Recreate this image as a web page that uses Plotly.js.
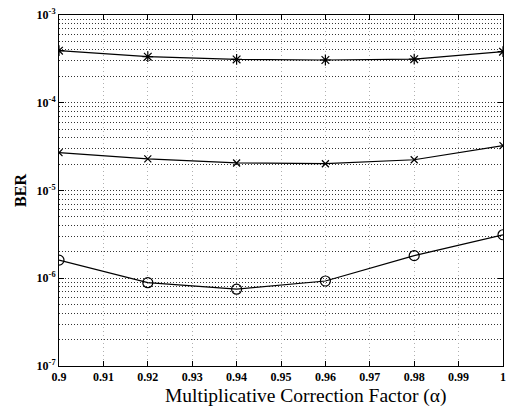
<!DOCTYPE html>
<html>
<head>
<meta charset="utf-8">
<script src="https://cdn.plot.ly/plotly-3.0.1.min.js"></script>
<style>html,body{margin:0;padding:0;background:#fff;}#chart{width:507px;height:410px;}</style>
</head>
<body>
<div id="chart"></div>
<script>
var alpha = [0.90, 0.92, 0.94, 0.96, 0.98, 1.00];
var berStar = [3.92e-4, 3.35e-4, 3.12e-4, 3.07e-4, 3.14e-4, 3.82e-4];
var berCross = [2.70e-5, 2.29e-5, 2.06e-5, 2.02e-5, 2.24e-5, 3.24e-5];
var berCircle = [1.61e-6, 8.9e-7, 7.5e-7, 9.3e-7, 1.81e-6, 3.13e-6];
var xTickVals = [0.9, 0.91, 0.92, 0.93, 0.94, 0.95, 0.96, 0.97, 0.98, 0.99, 1.0];
var xTickText = ['0.9', '0.91', '0.92', '0.93', '0.94', '0.95', '0.96', '0.97', '0.98', '0.99', '1'];
var decades = [-7, -6, -5, -4, -3];

var yTickVals = [], yTickText = [], yMinorVals = [];
decades.forEach(function (d, i) {
  yTickVals.push(Math.pow(10, d));
  yTickText.push('10<sup>' + d + '</sup>');
  if (i < decades.length - 1) {
    for (var m = 2; m <= 9; m++) yMinorVals.push(m * Math.pow(10, d));
  }
});

var lineStyle = {color: '#000', width: 1.2};
function series(y, sym, size) {
  return {x: alpha, y: y, type: 'scatter', mode: 'lines+markers', line: lineStyle,
    marker: {symbol: sym, size: size, color: '#000', line: {color: '#000', width: 1.2}},
    showlegend: false, hoverinfo: 'skip'};
}
var data = [
  series(berStar, 'asterisk-open', 9),
  series(berCross, 'x-thin-open', 7),
  series(berCircle, 'circle-open', 10)
];

var fontSerif = 'Liberation Serif, Times New Roman, serif';
var layout = {
  width: 507, height: 410,
  margin: {l: 59, r: 4, t: 15, b: 44},
  paper_bgcolor: '#fff', plot_bgcolor: '#fff',
  font: {family: fontSerif, color: '#000', size: 12},
  xaxis: {
    range: [0.9, 1.0], tickvals: xTickVals, ticktext: xTickText,
    ticks: 'inside', ticklen: 5, tickcolor: '#000', tickwidth: 1,
    showline: true, linecolor: '#000', linewidth: 1, mirror: 'ticks',
    showgrid: true, gridcolor: '#b0b0b0', griddash: '1px,3px', gridwidth: 1,
    zeroline: false, ticklabeloverflow: 'allow',
    tickfont: {family: fontSerif, size: 12, color: '#000', weight: 'bold'}
  },
  yaxis: {
    type: 'log', range: [-7, -3], tickvals: yTickVals, ticktext: yTickText,
    ticks: 'inside', ticklen: 5, tickcolor: '#000', tickwidth: 1,
    showline: true, linecolor: '#000', linewidth: 1, mirror: 'ticks',
    showgrid: true, gridcolor: '#333', griddash: '1px,2px', gridwidth: 1,
    minor: {tickvals: yMinorVals, ticks: '', showgrid: true, gridcolor: '#333', griddash: '1px,2px', gridwidth: 1},
    zeroline: false,
    tickfont: {family: fontSerif, size: 12, color: '#000', weight: 'bold'},
    title: {text: 'BER', font: {family: fontSerif, size: 16, color: '#000', weight: 'bold'}, standoff: 6}
  },
  annotations: [{
    text: 'Multiplicative Correction Factor (α)', xref: 'paper', yref: 'paper',
    x: 0.556, y: -0.085, xanchor: 'center', yanchor: 'middle', showarrow: false,
    font: {family: fontSerif, size: 19.5, color: '#000'}
  }]
};
Plotly.newPlot('chart', data, layout, {staticPlot: true, displayModeBar: false});
</script>
</body>
</html>
